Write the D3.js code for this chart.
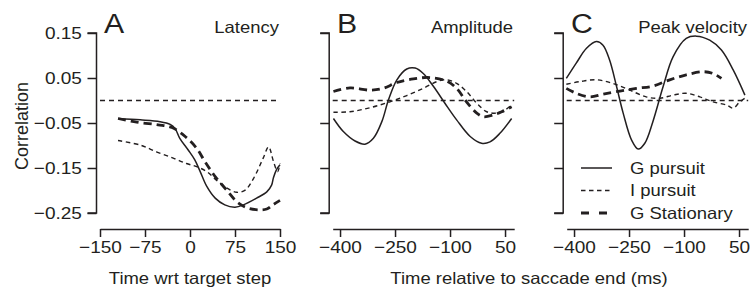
<!DOCTYPE html>
<html>
<head>
<meta charset="utf-8">
<script src="https://cdn.jsdelivr.net/npm/d3@7"></script>
<style>
  body { margin: 0; background: #fff; }
  svg { display: block; }
  text { font-family: "Liberation Sans", Arial, Helvetica, sans-serif; fill: #231f20; }
</style>
</head>
<body>
<div id="chart"></div>
<script>
// ---- data: [time, correlation] ----
const latGPursuit = [[-120,-0.040],[-83,-0.043],[-50,-0.047],[-33,-0.053],[-25,-0.062],[-17,-0.084],[-3,-0.110],[8,-0.132],[17,-0.158],[28,-0.191],[42,-0.217],[58,-0.232],[75,-0.237],[89,-0.232],[111,-0.217],[128,-0.203],[136,-0.188],[139,-0.172],[144,-0.154],[150,-0.143]];
const latIPursuit = [[-120,-0.089],[-83,-0.099],[-56,-0.114],[-28,-0.128],[-6,-0.140],[11,-0.147],[28,-0.158],[44,-0.177],[61,-0.194],[78,-0.204],[92,-0.199],[106,-0.173],[122,-0.128],[131,-0.103],[139,-0.135],[146,-0.158],[150,-0.140]];
const latGStat = [[-120,-0.040],[-89,-0.048],[-53,-0.054],[-30,-0.060],[-8,-0.080],[11,-0.106],[25,-0.136],[42,-0.169],[61,-0.199],[78,-0.225],[94,-0.238],[114,-0.243],[128,-0.241],[138,-0.232],[150,-0.222]];

const ampGPursuit = [[-418,-0.040],[-391,-0.069],[-359,-0.090],[-332,-0.097],[-309,-0.084],[-286,-0.047],[-268,0.001],[-245,0.046],[-218,0.070],[-195,0.072],[-173,0.060],[-145,0.031],[-114,-0.006],[-82,-0.043],[-45,-0.080],[-14,-0.095],[9,-0.092],[36,-0.073],[68,-0.040]];
const ampIPursuit = [[-418,-0.026],[-373,-0.025],[-318,-0.016],[-264,-0.003],[-218,0.011],[-173,0.027],[-136,0.042],[-109,0.046],[-82,0.038],[-55,0.020],[-27,-0.006],[0,-0.025],[27,-0.028],[50,-0.021],[68,-0.010]];
const ampGStat = [[-418,0.020],[-373,0.028],[-318,0.023],[-282,0.027],[-245,0.040],[-200,0.048],[-155,0.051],[-109,0.043],[-82,0.027],[-55,-0.003],[-27,-0.028],[-9,-0.036],[18,-0.032],[41,-0.025],[68,-0.014]];

const velGPursuit = [[-421,0.049],[-394,0.083],[-366,0.116],[-339,0.131],[-321,0.123],[-303,0.090],[-284,0.031],[-266,-0.028],[-243,-0.088],[-225,-0.108],[-207,-0.095],[-185,-0.047],[-157,0.031],[-130,0.097],[-94,0.138],[-66,0.143],[-30,0.134],[2,0.112],[34,0.068],[66,0.012]];
const velIPursuit = [[-421,0.036],[-384,0.042],[-339,0.046],[-294,0.038],[-248,0.023],[-203,0.008],[-166,0.005],[-130,0.012],[-94,0.016],[-57,0.008],[-21,-0.003],[16,-0.010],[34,-0.017],[52,-0.003],[66,0.005]];
const velGStat = [[-421,0.027],[-394,0.016],[-357,0.008],[-321,0.014],[-275,0.021],[-230,0.027],[-185,0.032],[-139,0.046],[-94,0.057],[-48,0.064],[-21,0.060],[2,0.049]];

const yTicks = [0.15, 0.05, -0.05, -0.15, -0.25];
const latTicks = [-150, -75, 0, 75, 150];
const sacTicks = [-400, -250, -100, 50];
const seriesNames = ["G pursuit", "I pursuit", "G Stationary"];

const width = 751, height = 291;
const stretch = 1.12; // the figure's type is a little wide

const svg = d3.select("#chart").append("svg")
    .attr("width", width).attr("height", height);

const y = d3.scaleLinear().domain([-0.25, 0.15]).range([213, 33]);
const xAxisY = 229;

const styles = [
  { w: 1.5, dash: null },      // G pursuit
  { w: 1.4, dash: "4.5,3.5" }, // I pursuit
  { w: 2.8, dash: "8,5" }      // G Stationary
];

function label(x, yy, str, size, anchor) {
  svg.append("text")
    .attr("transform", `translate(${x},${yy}) scale(${stretch},1)`)
    .attr("text-anchor", anchor || "start")
    .style("font-size", size + "px")
    .text(str);
}

function panel(x, ticks, series, letter, letterX, title, titleX) {
  // y axis
  const ya = svg.append("g")
    .attr("transform", `translate(${x.range()[0] - 3.5},0)`)
    .call(d3.axisLeft(y).tickValues(yTicks).tickSize(9).tickPadding(4)
      .tickFormat(d => letter === "A" ? d3.format(".2f")(d) : ""));
  ya.select(".domain").attr("d", `M-9,${y(0.15)}H0V${y(-0.25)}H-9`);

  // x axis
  const xa = svg.append("g")
    .attr("transform", `translate(0,${xAxisY})`)
    .call(d3.axisBottom(x).tickValues(ticks).tickSize(8).tickPadding(4).tickSizeOuter(0));

  [ya, xa].forEach(g => {
    g.selectAll("path, line").attr("stroke", "#231f20").attr("stroke-width", 1.5);
    g.selectAll("text").style("font-size", "17px").attr("fill", "#231f20")
      .attr("transform", `scale(${stretch},1)`);
  });

  // zero reference
  svg.append("line")
    .attr("x1", x.range()[0]).attr("x2", x.range()[1])
    .attr("y1", y(0)).attr("y2", y(0))
    .attr("stroke", "#231f20").attr("stroke-width", 1.4)
    .attr("stroke-dasharray", "5,4");

  const line = d3.line()
    .x(d => x(d[0])).y(d => y(d[1]))
    .curve(d3.curveCatmullRom.alpha(0.5));

  series.forEach((s, i) => {
    svg.append("path")
      .datum(s)
      .attr("d", line)
      .attr("fill", "none")
      .attr("stroke", "#231f20")
      .attr("stroke-width", styles[i].w)
      .attr("stroke-dasharray", styles[i].dash);
  });

  label(letterX, 33, letter, 27);
  label(titleX, 33, title, 16.5, "end");
}

const xA = d3.scaleLinear().domain([-150, 150]).range([100, 280]);
const xB = d3.scaleLinear().domain([-420, 75]).range([332.7, 514.2]);
const xC = d3.scaleLinear().domain([-420, 75]).range([566.7, 748.2]);

panel(xA, latTicks, [latGPursuit, latIPursuit, latGStat], "A", 104, "Latency", 279);
panel(xB, sacTicks, [ampGPursuit, ampIPursuit, ampGStat], "B", 337, "Amplitude", 513);
panel(xC, sacTicks, [velGPursuit, velIPursuit, velGStat], "C", 571, "Peak velocity", 747);

// axis titles
svg.append("text")
  .attr("transform", "translate(28,126) rotate(-90)")
  .attr("text-anchor", "middle")
  .style("font-size", "18px")
  .text("Correlation");
label(190, 284, "Time wrt target step", 16.5, "middle");
label(529, 284, "Time relative to saccade end (ms)", 16.5, "middle");

// legend
const legendRows = [168, 190.5, 213];
seriesNames.forEach((name, i) => {
  svg.append("line")
    .attr("x1", 581).attr("x2", 612)
    .attr("y1", legendRows[i]).attr("y2", legendRows[i])
    .attr("stroke", "#231f20")
    .attr("stroke-width", styles[i].w)
    .attr("stroke-dasharray", i === 2 ? "8,10" : styles[i].dash);
  label(630, legendRows[i] + 5.5, name, 16.5);
});
</script>
</body>
</html>
